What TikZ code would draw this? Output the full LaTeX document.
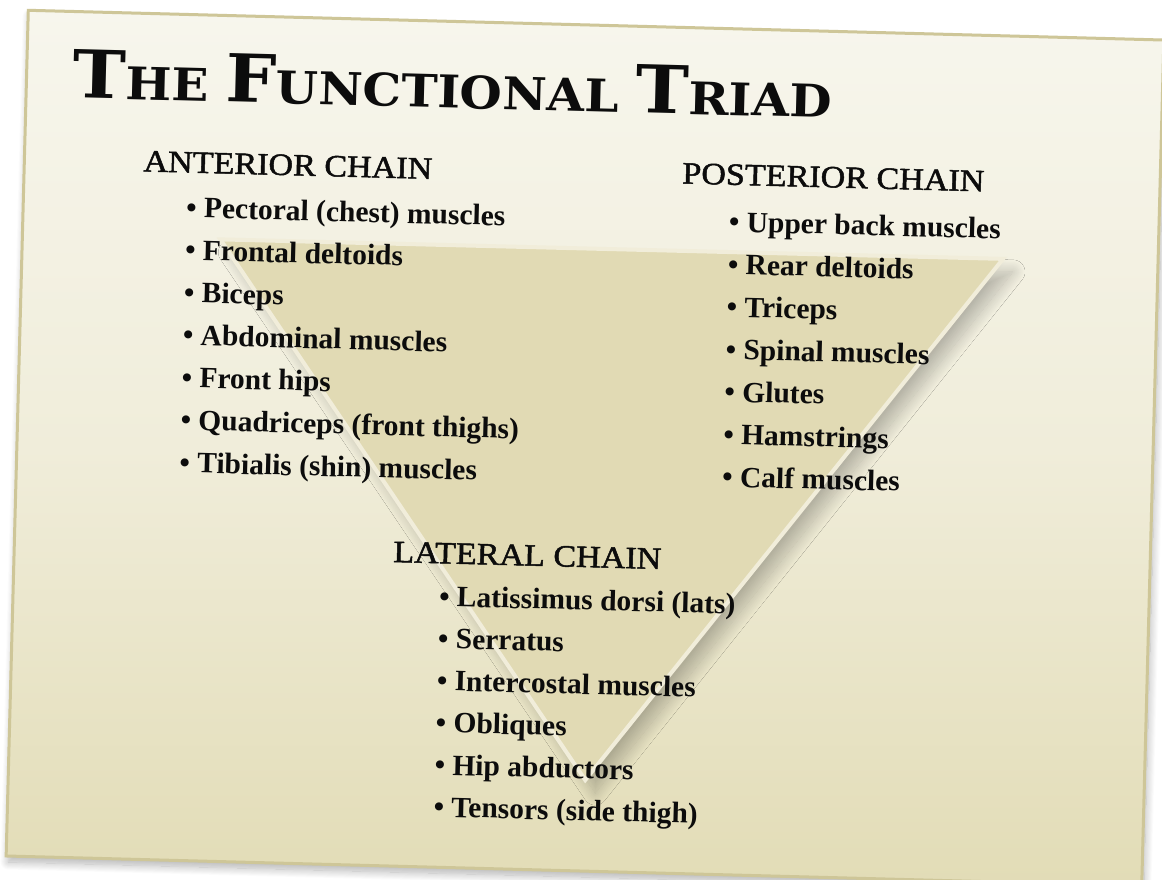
\documentclass[tikz,border=0pt]{standalone}
\usepackage{fontspec}
\setmainfont{Liberation Serif}
\newfontfamily\headfont[FakeStretch=1.1, FakeBold=1.6]{Liberation Serif}
\newfontfamily\titlefont[FakeStretch=1.08]{DejaVu Serif}
\usetikzlibrary{shadows.blur}
\definecolor{cardtop}{RGB}{247,246,237}
\definecolor{cardmid}{RGB}{240,237,218}
\definecolor{cardbot}{RGB}{226,220,182}
\definecolor{cardrim}{RGB}{206,198,152}
\definecolor{trifill}{RGB}{225,218,180}
\definecolor{triedge}{RGB}{241,237,218}
\definecolor{ink}{RGB}{12,12,12}
\newcommand{\tbig}[1]{{\fontsize{66}{70}\selectfont #1}}
\newcommand{\tsml}[1]{{\fontsize{45}{50}\selectfont #1}}

\begin{document}
\begin{tikzpicture}[x=1pt, y=-1pt,
    card/.style={draw=cardrim, line width=3pt, top color=cardtop,
                 bottom color=cardbot, middle color=cardmid,
                 blur shadow={shadow xshift=2pt, shadow yshift=-6pt,
                              shadow blur radius=8pt, shadow blur steps=16,
                              shadow opacity=30}},
    tri/.style={fill=trifill, draw=triedge, line width=4pt,
                blur shadow={shadow xshift=10pt, shadow yshift=-13pt,
                             shadow blur radius=12pt, shadow blur steps=24,
                             shadow opacity=24}},
    title/.style={anchor=base west, inner sep=0pt, text=ink,
                  font=\titlefont\bfseries\fontsize{45}{50}\selectfont},
    head/.style={anchor=base west, inner sep=0pt, text=ink,
                 font=\headfont\fontsize{31}{36}\selectfont},
    item/.style={anchor=base west, inner sep=0pt, text=ink,
                 font=\bfseries\fontsize{29.5}{34}\selectfont}]
  \useasboundingbox (0,0) rectangle (1162,879);

  \begin{scope}[rotate around={-1.5:(585,448)}, transform shape]
    % card and triangle
    \draw[card] (17,25) rectangle (1153,871);
    \coordinate (tl) at (215,249);
    \coordinate (tr) at (998,248);
    \coordinate (tb) at (594,780);
    \draw[tri] (tl) -- (tr) -- (tb) -- cycle;

    % Title
    \node[title] (ttl) at (63,111.5)
      {\tbig{T}\tsml{HE} \tbig{F}\tsml{UNCTIONAL} \tbig{T}\tsml{RIAD}};

    % Anterior chain
    \node[head] (ant) at (136,183) {ANTERIOR CHAIN};
    \node[item] (ant1) at (180,228)   {\textbullet\ Pectoral (chest) muscles};
    \node[item] (ant2) at (180,270.5) {\textbullet\ Frontal deltoids};
    \node[item] (ant3) at (180,313)   {\textbullet\ Biceps};
    \node[item] (ant4) at (180,355.5) {\textbullet\ Abdominal muscles};
    \node[item] (ant5) at (180,398)   {\textbullet\ Front hips};
    \node[item] (ant6) at (180,440.5) {\textbullet\ Quadriceps (front thighs)};
    \node[item] (ant7) at (180,483)   {\textbullet\ Tibialis (shin) muscles};

    % Posterior chain
    \node[head] (post) at (675,181) {POSTERIOR CHAIN};
    \node[item] (post1) at (723,228)   {\textbullet\ Upper back muscles};
    \node[item] (post2) at (723,270.5) {\textbullet\ Rear deltoids};
    \node[item] (post3) at (723,313)   {\textbullet\ Triceps};
    \node[item] (post4) at (723,355.5) {\textbullet\ Spinal muscles};
    \node[item] (post5) at (723,398)   {\textbullet\ Glutes};
    \node[item] (post6) at (723,440.5) {\textbullet\ Hamstrings};
    \node[item] (post7) at (723,483)   {\textbullet\ Calf muscles};

    % Lateral chain
    \node[head] (lat) at (396,567) {LATERAL CHAIN};
    \node[item] (lat1) at (443,610)   {\textbullet\ Latissimus dorsi (lats)};
    \node[item] (lat2) at (443,652.1) {\textbullet\ Serratus};
    \node[item] (lat3) at (443,694.2) {\textbullet\ Intercostal muscles};
    \node[item] (lat4) at (443,736.3) {\textbullet\ Obliques};
    \node[item] (lat5) at (443,778.4) {\textbullet\ Hip abductors};
    \node[item] (lat6) at (443,820.5) {\textbullet\ Tensors (side thigh)};
  \end{scope}
\end{tikzpicture}
\end{document}
